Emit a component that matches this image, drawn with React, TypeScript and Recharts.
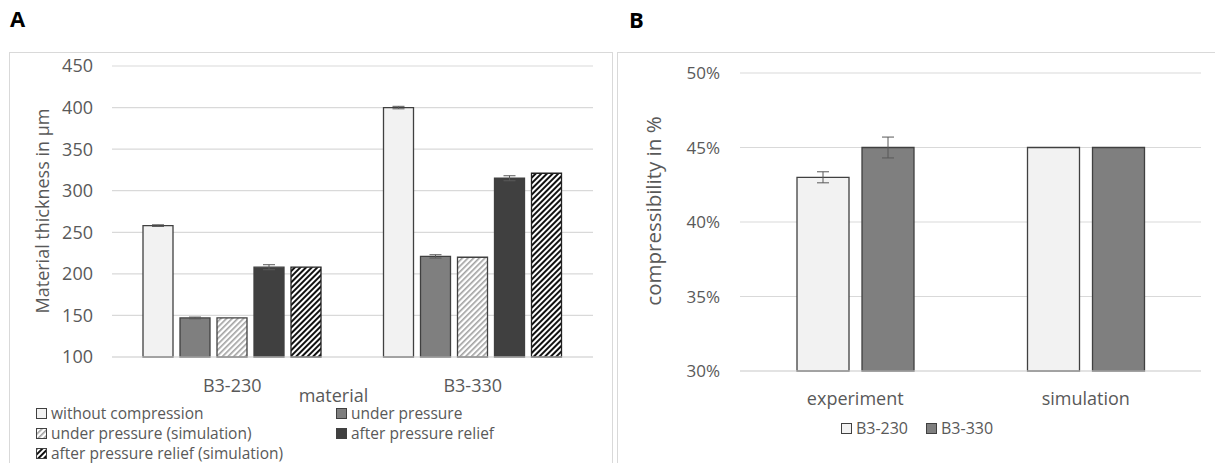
import React from 'react';
import { BarChart, Bar, XAxis, YAxis, CartesianGrid, ErrorBar, Legend } from 'recharts';

// panel A: material thickness
const materials = ['B3-230', 'B3-330'];
const withoutCompression = [258, 400];
const withoutCompressionErr = [1, 1.5];
const underPressure = [147, 221];
const underPressureErr = [1, 2];
const underPressureSim = [147, 220];
const afterRelief = [208, 315];
const afterReliefErr = [3, 3];
const afterReliefSim = [208, 321];
const thicknessTicks = [100, 150, 200, 250, 300, 350, 400, 450];

// panel B: compressibility
const methods = ['experiment', 'simulation'];
const b3230 = [0.43, 0.45];
const b3230Err = [0.0037, null];
const b3330 = [0.45, 0.45];
const b3330Err = [0.007, null];
const percentTicks = [0.3, 0.35, 0.4, 0.45, 0.5];

const dataA = materials.map((m, i) => ({
  material: m,
  wc: withoutCompression[i], wcErr: withoutCompressionErr[i],
  up: underPressure[i], upErr: underPressureErr[i],
  ups: underPressureSim[i],
  ar: afterRelief[i], arErr: afterReliefErr[i],
  ars: afterReliefSim[i],
}));

const dataB = methods.map((m, i) => ({
  method: m,
  b230: b3230[i], b230Err: b3230Err[i],
  b330: b3330[i], b330Err: b3330Err[i],
}));

const FONT = '"Open Sans", sans-serif';
const TXT = '#595959';
const GRID = '#d9d9d9';
const EDGE = '#404040';

const fills: Record<string, string> = {
  wc: '#f2f2f2', up: '#7f7f7f', ups: 'url(#hatchGrey)', ar: '#404040', ars: 'url(#hatchBlack)',
  b230: '#f2f2f2', b330: '#7f7f7f',
};

// legend order as drawn (recharts sorts by name otherwise)
const orderA = ['wc', 'up', 'ups', 'ar', 'ars'];
const orderB = ['b230', 'b330'];

const Patterns = () => (
  <defs>
    <pattern id="hatchGrey" width="4" height="4" patternUnits="userSpaceOnUse" patternTransform="rotate(45)">
      <rect width="4" height="4" fill="#fff" />
      <rect width="1.6" height="4" fill="#a0a0a0" />
    </pattern>
    <pattern id="hatchBlack" width="4" height="4" patternUnits="userSpaceOnUse" patternTransform="rotate(45)">
      <rect width="4" height="4" fill="#fff" />
      <rect width="2" height="4" fill="#111" />
    </pattern>
  </defs>
);

const Swatch = ({ fill }: { fill: string }) => (
  <svg width={11} height={11} style={{ marginRight: 4, flex: 'none' }}>
    <rect x={0.5} y={0.5} width={10} height={10} fill={fill} stroke={EDGE} strokeWidth={1} />
  </svg>
);

const sortBy = (items: any[], order: string[]) =>
  [...items].sort((a, b) => order.indexOf(a.dataKey) - order.indexOf(b.dataKey));

const legendA = (props: any) => {
  const items = sortBy(props.payload || [], orderA);
  return (
    <div style={{ display: 'grid', gridTemplateColumns: '300px 260px', fontFamily: FONT, fontSize: 15.5, lineHeight: '20px', color: TXT }}>
      {items.map((it: any) => (
        <div key={it.dataKey} style={{ display: 'flex', alignItems: 'center', height: 20, whiteSpace: 'nowrap' }}>
          <Swatch fill={fills[it.dataKey]} />
          <span>{it.value}</span>
        </div>
      ))}
    </div>
  );
};

const legendB = (props: any) => {
  const items = sortBy(props.payload || [], orderB);
  return (
    <div style={{ display: 'flex', justifyContent: 'center', gap: 18, fontFamily: FONT, fontSize: 16, color: TXT }}>
      {items.map((it: any) => (
        <div key={it.dataKey} style={{ display: 'flex', alignItems: 'center', whiteSpace: 'nowrap' }}>
          <Swatch fill={fills[it.dataKey]} />
          <span>{it.value}</span>
        </div>
      ))}
    </div>
  );
};

const yLabel = (text: string, cx: number, cy: number, size: number) => () => (
  <text x={cx} y={cy} transform={`rotate(-90, ${cx}, ${cy})`} textAnchor="middle" dominantBaseline="central"
    fill={TXT} fontSize={size} fontFamily={FONT}>{text}</text>
);

const xLabel = (text: string, dx: number, dy: number, size: number) => (props: any) => {
  const { x, y, width } = props.viewBox;
  return (
    <text x={x + width / 2 + dx} y={y + dy} textAnchor="middle" dominantBaseline="central"
      fill={TXT} fontSize={size} fontFamily={FONT}>{text}</text>
  );
};

const Box = ({ left, width, children }: { left: number; width: number; children: React.ReactNode }) => (
  <div style={{ position: 'absolute', left, top: 52, width, height: 411, borderTop: `1px solid ${GRID}`, borderLeft: `1px solid ${GRID}`, borderRight: `1px solid ${GRID}`, boxSizing: 'border-box' }}>
    {children}
  </div>
);

export default function App() {
  return (
    <div style={{ position: 'fixed', left: 0, top: 0, width: 1215, height: 463, background: '#fff', overflow: 'hidden', fontFamily: FONT }}>
      <div style={{ position: 'absolute', left: 10, top: 3, fontSize: 22, fontWeight: 700, color: '#000' }}>A</div>
      <div style={{ position: 'absolute', left: 629, top: 4, fontSize: 22, fontWeight: 700, color: '#000' }}>B</div>

      <Box left={9} width={604}>
        <BarChart width={602} height={410} data={dataA} margin={{ top: 13, right: 19, left: 0, bottom: 76 }}
          barSize={30} barGap={7}>
          <Patterns />
          <CartesianGrid vertical={false} stroke={GRID} strokeWidth={1.2} />
          <XAxis dataKey="material" axisLine={{ stroke: GRID, strokeWidth: 1.2 }} tickLine={false} height={30}
            tick={{ fill: TXT, fontSize: 18, fontFamily: FONT }} tickMargin={16}
            label={xLabel('material', -19, 38, 18)} />
          <YAxis width={102} domain={[100, 450]} ticks={thicknessTicks} interval={0} axisLine={false} tickLine={false}
            tick={{ fill: TXT, fontSize: 18, fontFamily: FONT }} tickMargin={13}
            label={yLabel('Material thickness in µm', 32, 158, 18)} />
          <Legend content={legendA} layout="horizontal" verticalAlign="middle" align="center"
            wrapperStyle={{ left: 26, top: 350, width: 570, bottom: 'auto' }} />
          <Bar dataKey="wc" name="without compression" fill={fills.wc} stroke={EDGE} strokeWidth={1.3} isAnimationActive={false}>
            <ErrorBar dataKey="wcErr" width={6} stroke={TXT} strokeWidth={1} direction="y" />
          </Bar>
          <Bar dataKey="up" name="under pressure" fill={fills.up} stroke={EDGE} strokeWidth={1.3} isAnimationActive={false}>
            <ErrorBar dataKey="upErr" width={6} stroke={TXT} strokeWidth={1} direction="y" />
          </Bar>
          <Bar dataKey="ups" name="under pressure (simulation)" fill={fills.ups} stroke={EDGE} strokeWidth={1.3} isAnimationActive={false} />
          <Bar dataKey="ar" name="after pressure relief" fill={fills.ar} stroke={EDGE} strokeWidth={1.3} isAnimationActive={false}>
            <ErrorBar dataKey="arErr" width={6} stroke={TXT} strokeWidth={1} direction="y" />
          </Bar>
          <Bar dataKey="ars" name="after pressure relief (simulation)" fill={fills.ars} stroke="#222" strokeWidth={1.3} isAnimationActive={false} />
        </BarChart>
      </Box>

      <Box left={617} width={600}>
        <BarChart width={598} height={410} data={dataB} margin={{ top: 20, right: 15, left: 0, bottom: 62 }}
          barSize={52} barGap={13}>
          <CartesianGrid vertical={false} stroke={GRID} strokeWidth={1.2} />
          <XAxis dataKey="method" axisLine={{ stroke: GRID, strokeWidth: 1.2 }} tickLine={false} height={30}
            tick={{ fill: TXT, fontSize: 18, fontFamily: FONT }} tickMargin={15} />
          <YAxis width={122} domain={[0.3, 0.5]} ticks={percentTicks} interval={0} axisLine={false} tickLine={false}
            tickFormatter={(v: number) => `${Math.round(v * 100)}%`}
            tick={{ fill: TXT, fontSize: 17, fontFamily: FONT }} tickMargin={14}
            label={yLabel('compressibility in %', 35, 158, 20.5)} />
          <Legend content={legendB} layout="horizontal" verticalAlign="middle" align="center"
            wrapperStyle={{ left: 0, top: 364, width: 598, bottom: 'auto' }} />
          <Bar dataKey="b230" name="B3-230" fill={fills.b230} stroke={EDGE} strokeWidth={1.3} isAnimationActive={false}>
            <ErrorBar dataKey="b230Err" width={6} stroke={TXT} strokeWidth={1} direction="y" />
          </Bar>
          <Bar dataKey="b330" name="B3-330" fill={fills.b330} stroke={EDGE} strokeWidth={1.3} isAnimationActive={false}>
            <ErrorBar dataKey="b330Err" width={6} stroke={TXT} strokeWidth={1} direction="y" />
          </Bar>
        </BarChart>
      </Box>
    </div>
  );
}
